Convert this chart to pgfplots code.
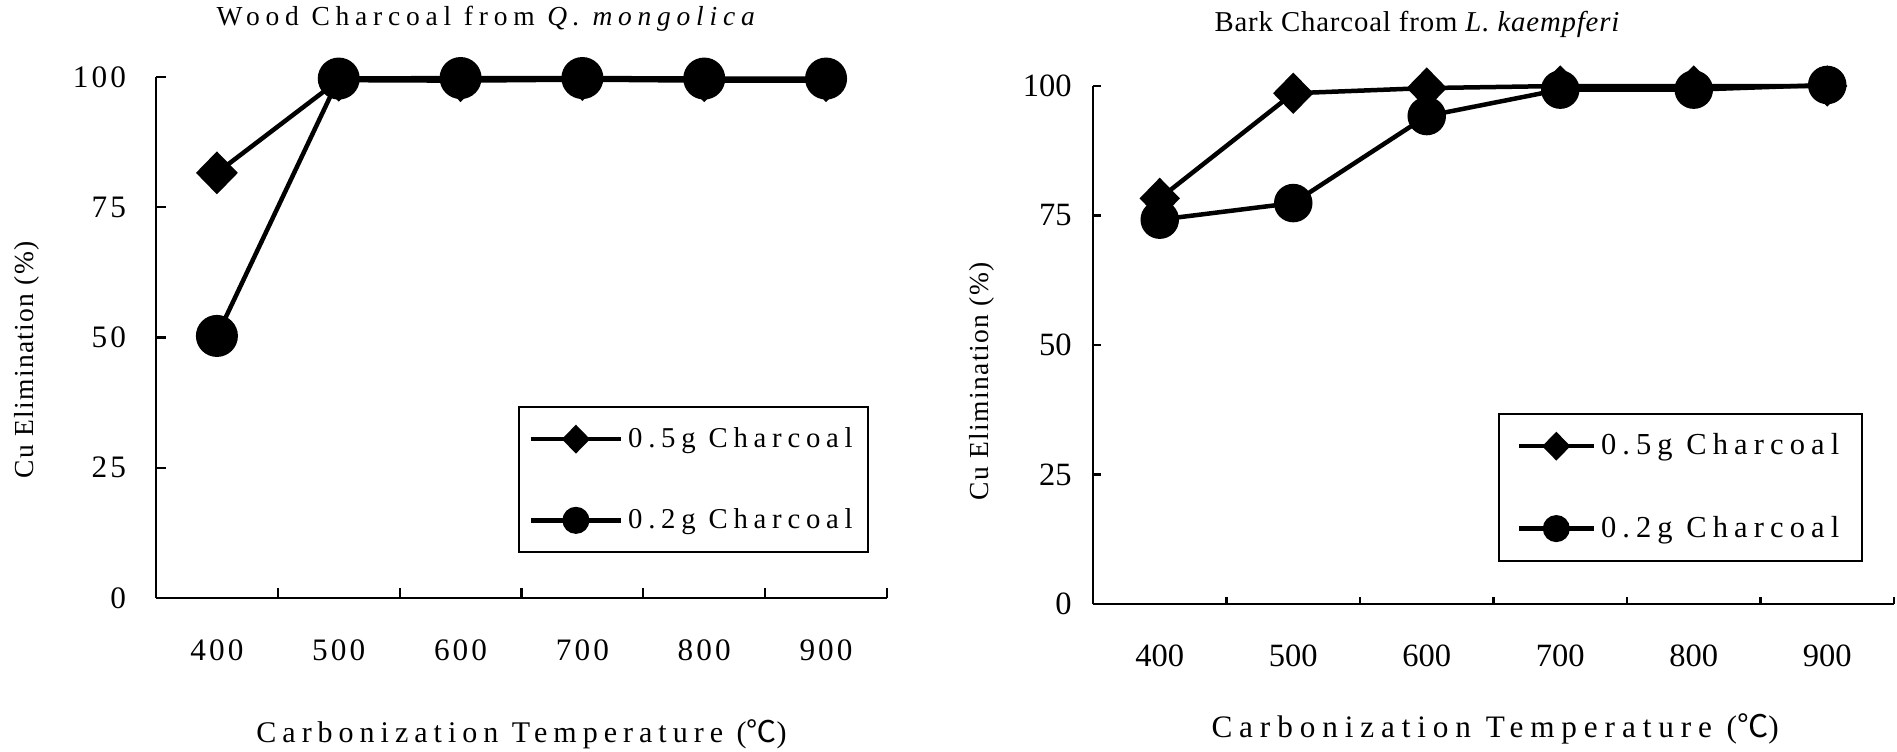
\documentclass[border=0pt]{standalone}
\usepackage{fontspec}
\setmainfont{Liberation Serif}
\newfontfamily\lsT[LetterSpace=21]{Liberation Serif}
\newfontfamily\lsTR[LetterSpace=3]{Liberation Serif}
\newfontfamily\lsX[LetterSpace=20]{Liberation Serif}
\newfontfamily\lsXR[LetterSpace=22]{Liberation Serif}
\newfontfamily\lsL[LetterSpace=20]{Liberation Serif}
\newfontfamily\lsR[LetterSpace=20]{Liberation Serif}
\newfontfamily\lsY[LetterSpace=5]{Liberation Serif}
\newfontfamily\lsK[LetterSpace=10]{Liberation Serif}
\newfontfamily\cjk{Noto Sans CJK SC}
\usepackage{pgfplots}
\pgfplotsset{compat=1.18}

\pgfplotsset{
  charcoal/.style={
    scale only axis, clip=false,
    xmin=-0.5, xmax=5.5, ymin=0, ymax=100,
    axis x line*=bottom, axis y line*=left,
    axis line style={-, line width=0.9pt},
    xtick={0,...,5}, xticklabels={400,500,600,700,800,900},
    major x tick style={draw=none},
    minor xtick={0.5,1.5,...,5.5},
    tick align=inside,
    major tick length=4pt, minor tick length=4pt,
    tick style={line width=0.9pt, black},
    ytick={0,25,50,75,100}, yticklabels={0,25,50,75,100},
    xticklabel style={yshift=-13pt},
    legend cell align=left,
    legend style={anchor=south east, draw=black, line width=0.8pt,
      inner xsep=4pt, inner ysep=8pt, row sep=23pt,
      nodes={inner xsep=2pt, inner ysep=0pt}},
  },
  p05/.style={black, line width=1.8pt, mark=diamond*, mark size=7.3pt,
    mark options={xscale=1.3}},
  p02/.style={black, line width=1.8pt, mark=*, mark size=7.5pt},
}

\begin{document}
\begin{tikzpicture}
\useasboundingbox (0,0) rectangle (758.8pt,300.4pt);

% left: wood charcoal
\begin{axis}[charcoal,
  at={(62.4pt,61.2pt)}, anchor=south west,
  width=292.4pt, height=208.4pt,
  tick label style={font=\lsK\fontsize{12.5}{13}\selectfont},
  yticklabel style={xshift=-8.5pt},
  title={\lsT Wood Charcoal from \textit{Q. mongolica}},
  title style={at={(axis description cs:0.455,1.083)}, anchor=center,
    font=\fontsize{11}{12}\selectfont},
  xlabel={\lsX Carbonization Temperature (\cjk ℃\lsX)},
  xlabel style={at={(axis description cs:0.5,-0.261)}, anchor=center,
    font=\fontsize{12}{13}\selectfont},
  ylabel={\lsY Cu Elimination (\%)},
  ylabel style={at={(axis description cs:-0.177,0.457)}, anchor=center,
    font=\fontsize{11}{12}\selectfont},
  legend image code/.code={
    \draw[#1, mark size=4.5pt, mark repeat=2, mark phase=2]
      plot coordinates {(0pt,0pt) (18pt,0pt) (36pt,0pt)};
  },
  legend style={at={(0.975,0.086)}, font=\lsL\fontsize{11.5}{12}\selectfont},
]
\addplot[p05] coordinates {(0,81.6) (1,99.4) (2,99.3) (3,99.5) (4,99.3) (5,99.3)};
\addplot[p02] coordinates {(0,50.3) (1,99.7) (2,99.8) (3,99.8) (4,99.7) (5,99.7)};
\legend{0.5g Charcoal, 0.2g Charcoal}
\end{axis}

% right: bark charcoal
\begin{axis}[charcoal,
  at={(437.2pt,58.8pt)}, anchor=south west,
  width=320.4pt, height=207.2pt,
  major tick length=3pt, minor tick length=3pt,
  tick label style={font=\fontsize{13}{14}\selectfont},
  yticklabel style={xshift=-5pt},
  title={\lsTR Bark Charcoal from \textit{L. kaempferi}},
  title style={at={(axis description cs:0.405,1.089)}, anchor=center,
    font=\fontsize{11.5}{12}\selectfont},
  xlabel={\lsXR Carbonization Temperature (\cjk ℃\lsXR)},
  xlabel style={at={(axis description cs:0.502,-0.241)}, anchor=center,
    font=\fontsize{12.5}{13}\selectfont},
  ylabel={\lsY Cu Elimination (\%)},
  ylabel style={at={(axis description cs:-0.139,0.43)}, anchor=center,
    font=\fontsize{11}{12}\selectfont},
  legend image code/.code={
    \draw[#1, mark size=4.5pt, mark repeat=2, mark phase=2]
      plot coordinates {(0pt,0pt) (15pt,0pt) (30pt,0pt)};
  },
  legend style={at={(0.961,0.081)}, inner xsep=7pt,
    font=\lsR\fontsize{12.2}{13}\selectfont},
]
\addplot[p05, mark size=7pt] coordinates {(0,78.3) (1,98.6) (2,99.6) (3,100) (4,100) (5,100)};
\addplot[p02, mark size=6.8pt] coordinates {(0,74.2) (1,77.4) (2,94.2) (3,99.3) (4,99.3) (5,100.2)};
\legend{0.5g Charcoal, 0.2g Charcoal}
\end{axis}
\end{tikzpicture}
\end{document}
